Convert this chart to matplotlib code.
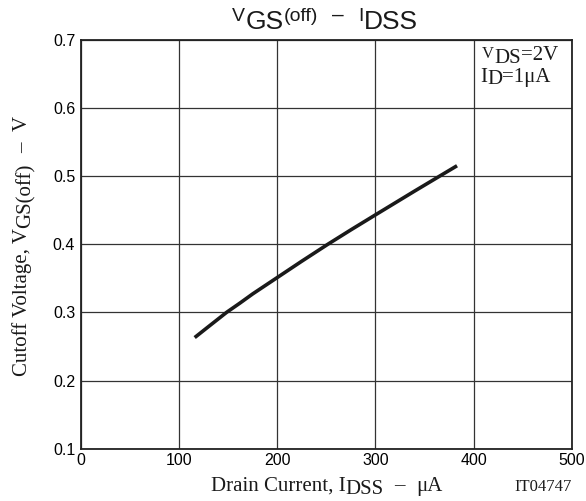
import matplotlib
matplotlib.use("Agg")
import matplotlib.pyplot as plt
from matplotlib.transforms import offset_copy

# Data
idss = [116, 130, 148.5, 162, 175, 200, 225, 251.7, 275, 300, 340, 383]
vgs = [0.263, 0.279, 0.300, 0.3135, 0.327, 0.351, 0.375, 0.400, 0.421, 0.443, 0.478, 0.515]
xticks = [0, 100, 200, 300, 400, 500]
yticks = [0.1, 0.2, 0.3, 0.4, 0.5, 0.6, 0.7]

W, H = 586, 501
fig = plt.figure(figsize=(W / 100, H / 100), dpi=100)
ax = fig.add_axes([80.7 / W, 1 - 448.7 / H, (572 - 80.7) / W, (448.7 - 39.6) / H])
ax.plot(idss, vgs, color='#1a1a1a', lw=2.6, solid_capstyle='butt')
ax.set_xlim(0, 500)
ax.set_ylim(0.1, 0.7)
ax.set_xticks(xticks)
ax.set_yticks(yticks)
ax.set_xticklabels([str(t) for t in xticks], family='Liberation Sans', fontsize=11.5)
ax.set_yticklabels([f"{t:.1f}" for t in yticks], family='Liberation Sans', fontsize=11.5)
ax.tick_params(axis='x', length=0, pad=3)
ax.tick_params(axis='y', length=0, pad=4)
ax.grid(True, color='#333333', lw=0.9)
for s in ax.spines.values():
    s.set_linewidth(1.3)
    s.set_color('#222222')

renderer = fig.canvas.get_renderer()


def rich(px, py, pieces, family, ha='left', rotation=0):
    """pieces: (text, size, dy_px (positive = up), gap_after_px). px, py in pixels from top-left."""
    widths = []
    for s, size, dy, gap in pieces:
        t = fig.text(0, 0, s, fontsize=size, family=family)
        widths.append(t.get_window_extent(renderer).width)
        t.remove()
    total = sum(widths) + sum(p[3] for p in pieces[:-1])
    if ha == 'center':
        pos = -total / 2
    elif ha == 'right':
        pos = -total
    else:
        pos = 0
    x0, y0 = px / W, 1 - py / H
    for (s, size, dy, gap), w in zip(pieces, widths):
        if rotation == 90:
            ox, oy = -dy, pos
        else:
            ox, oy = pos, dy
        tr = offset_copy(fig.transFigure, fig=fig, x=ox, y=oy, units='dots')
        fig.text(x0, y0, s, transform=tr, fontsize=size, family=family, rotation=rotation,
                 ha='left', va='baseline', rotation_mode='anchor', color='#1a1a1a')
        pos += w + gap


# Title
rich(325, 21, [("V", 14, 0, 1), ("GS", 19, -8, 0), ("(off)", 14, 0, 14),
               ("–", 15, 0, 14), ("I", 14, 0, 1), ("DSS", 19, -8, 0)],
     'Liberation Sans', ha='center')
# x label
rich(326.5, 490.5, [("Drain Current, I", 15, 0, 0), ("DSS", 15, -4, 11), ("–", 15, 0, 11), ("μA", 15, 0, 0)],
     'Liberation Serif', ha='center')
# y label
rich(27, 246, [("Cutoff Voltage, V", 15, 0, 0), ("GS(off)", 15, -4, 11), ("–", 15, 0, 11), ("V", 15, 0, 0)],
     'Liberation Serif', ha='center', rotation=90)
# code
rich(572, 491, [("IT04747", 12, 0, 0)], 'Liberation Serif', ha='right')
# conditions box
rich(482, 58.3, [("V", 12, 0, 0), ("DS", 15, -5, 0), ("=2V", 15, -2, 0)], 'Liberation Serif')
rich(480, 81.5, [("I", 15, 0, 0), ("D", 15, -2.5, 0), ("=1μA", 15, -0.5, 0)], 'Liberation Serif')

fig.savefig('out.png', dpi=100)
